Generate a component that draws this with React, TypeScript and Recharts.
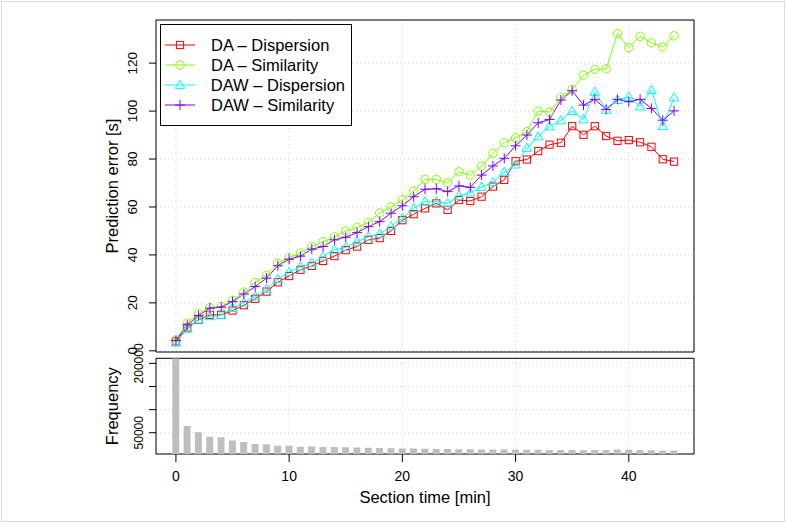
import React from "react";
import {
  LineChart,
  Line,
  BarChart,
  Bar,
  XAxis,
  YAxis,
  CartesianGrid,
  ReferenceArea,
  Legend,
} from "recharts";

// section time in minutes (x axis of both panels)
const sectionTime = [
  0, 1, 2, 3, 4, 5, 6, 7, 8, 9, 10, 11, 12, 13, 14, 15, 16, 17, 18, 19, 20, 21,
  22, 23, 24, 25, 26, 27, 28, 29, 30, 31, 32, 33, 34, 35, 36, 37, 38, 39, 40,
  41, 42, 43, 44,
];

// prediction error [s]
const daDispersion = [
  3.9, 9.7, 12.9, 15.0, 15.0, 16.8, 19.0, 21.7, 24.7, 28.6, 31.2, 33.8, 35.4,
  37.5, 39.5, 42.0, 43.5, 46.3, 47.0, 50.0, 54.5, 57.0, 59.4, 61.5, 58.8, 62.9,
  62.5, 64.3, 68.5, 71.3, 79.1, 79.8, 83.3, 86.0, 86.8, 93.7, 90.1, 93.7, 89.6,
  87.6, 87.9, 87.0, 85.1, 79.9, 78.9,
];
const daSimilarity = [
  4.5, 11.5, 15.5, 18.0, 18.5, 21.0, 24.5, 28.5, 31.5, 36.5, 38.8, 40.8, 43.5,
  45.5, 47.5, 50.0, 51.5, 53.5, 57.5, 60.0, 63.0, 66.7, 71.5, 71.5, 70.1, 74.7,
  73.3, 77.1, 82.4, 86.8, 88.8, 91.4, 100.0, 99.6, 105.7, 109.0, 115.0, 117.4,
  117.6, 132.3, 126.5, 131.2, 128.5, 126.8, 131.4,
];
const dawDispersion = [
  3.4, 9.2, 13.0, 14.4, 14.8, 17.8, 20.1, 22.6, 25.7, 29.9, 32.8, 35.1, 36.5,
  39.3, 42.1, 43.2, 45.5, 47.6, 48.8, 51.8, 55.3, 59.5, 62.2, 62.2, 61.5, 64.6,
  66.0, 68.3, 70.3, 74.5, 77.7, 84.6, 89.4, 93.6, 96.1, 100.0, 96.5, 108.0,
  100.5, 104.6, 105.9, 101.9, 108.8, 93.7, 105.7,
];
const dawSimilarity = [
  4.3, 10.8, 14.7, 17.8, 18.2, 20.5, 23.7, 26.8, 30.3, 35.5, 38.2, 39.5, 42.4,
  43.5, 46.3, 47.4, 49.3, 51.8, 53.9, 57.4, 60.5, 64.3, 67.4, 67.6, 66.4, 68.8,
  68.2, 73.3, 77.1, 80.3, 85.5, 90.0, 95.1, 96.5, 104.6, 108.5, 102.5, 104.9,
  100.7, 104.9, 103.9, 104.9, 101.1, 96.2, 100.1,
];

// number of sections per section time
const frequency = [
  211000, 64500, 51000, 41500, 40500, 33000, 30000, 25500, 25000, 22000, 22000,
  19500, 20000, 19000, 19000, 18500, 18000, 17500, 17000, 16500, 16000, 16000,
  15500, 15000, 15000, 14500, 14500, 14000, 14000, 13500, 13500, 13000, 13000,
  12500, 12500, 12500, 12000, 12500, 12500, 13500, 13500, 12500, 12000, 11500,
  11500,
];

const xTicks = [0, 10, 20, 30, 40];
const errorTicks = [0, 20, 40, 60, 80, 100, 120];
const freqTicks = [50000, 100000, 150000, 200000];
const freqLabelled = [50000, 200000];

const X_DOMAIN: [number, number] = [-1.76, 45.76];
const ERR_DOMAIN: [number, number] = [-0.5, 138];
const FREQ_DOMAIN: [number, number] = [4000, 211000];

const FONT = "'Liberation Sans', Arial, Helvetica, sans-serif";
const GRID = "#d3d3d3";

type Shape = "square" | "circle" | "triangle" | "plus";

const SERIES: { key: string; name: string; color: string; shape: Shape }[] = [
  { key: "daDisp", name: "DA \u2013 Dispersion", color: "#FF0000", shape: "square" },
  { key: "daSim", name: "DA \u2013 Similarity", color: "#80FF00", shape: "circle" },
  { key: "dawDisp", name: "DAW \u2013 Dispersion", color: "#00FFFF", shape: "triangle" },
  { key: "dawSim", name: "DAW \u2013 Similarity", color: "#8000FF", shape: "plus" },
];

const errorRows = sectionTime.map((t, i) => ({
  t,
  daDisp: daDispersion[i],
  daSim: daSimilarity[i],
  dawDisp: dawDispersion[i],
  dawSim: dawSimilarity[i],
}));

const freqRows = sectionTime.map((t, i) => ({ t, freq: frequency[i] }));

function Marker({ shape, cx, cy, color }: { shape: Shape; cx: number; cy: number; color: string }) {
  if (cx == null || cy == null) return null;
  if (shape === "square")
    return <rect x={cx - 3.6} y={cy - 3.6} width={7.2} height={7.2} fill="none" stroke={color} strokeWidth={1} />;
  if (shape === "circle")
    return <circle cx={cx} cy={cy} r={4.2} fill="none" stroke={color} strokeWidth={1} />;
  if (shape === "triangle")
    return (
      <polygon
        points={`${cx},${cy - 5} ${cx - 4.8},${cy + 3.4} ${cx + 4.8},${cy + 3.4}`}
        fill="none"
        stroke={color}
        strokeWidth={1}
      />
    );
  return (
    <path
      d={`M${cx - 5},${cy}H${cx + 5}M${cx},${cy - 5}V${cy + 5}`}
      stroke={color}
      strokeWidth={1}
      fill="none"
    />
  );
}

function LegendBox() {
  return (
    <div
      style={{
        border: "1px solid #000",
        background: "#fff",
        padding: "10px 6px 10px 4px",
        width: 192,
        boxSizing: "border-box",
        fontFamily: FONT,
      }}
    >
      {SERIES.map((s) => (
        <div key={s.key} style={{ display: "flex", alignItems: "center", height: 20 }}>
          <svg width={30} height={20} style={{ display: "block" }}>
            <line x1={0} y1={10} x2={30} y2={10} stroke={s.color} strokeWidth={1} />
            <Marker shape={s.shape} cx={15} cy={10} color={s.color} />
          </svg>
          <span style={{ marginLeft: 16, fontSize: 16.5, lineHeight: "20px", color: "#000", whiteSpace: "nowrap" }}>
            {s.name}
          </span>
        </div>
      ))}
    </div>
  );
}

const rotatedTick = (fontSize: number, show?: number[]) => (props: any) => {
  const { x, y, payload } = props;
  const v = payload.value;
  if (show && !show.includes(v)) return <g />;
  return (
    <text
      x={x}
      y={y}
      transform={`rotate(-90 ${x} ${y})`}
      textAnchor="middle"
      dominantBaseline="central"
      fontSize={fontSize}
      fill="#000"
      fontFamily={FONT}
    >
      {String(v)}
    </text>
  );
};

const xTick = (props: any) => {
  const { x, y, payload } = props;
  return (
    <text x={x} y={y} dy="0.71em" textAnchor="middle" fontSize={14} fill="#000" fontFamily={FONT}>
      {String(payload.value)}
    </text>
  );
};

const yTitle = (text: string) => (props: any) => {
  const vb = props.viewBox;
  const x = vb.x + 12;
  const y = vb.y + vb.height / 2;
  return (
    <text
      x={x}
      y={y}
      transform={`rotate(-90 ${x} ${y})`}
      textAnchor="middle"
      dominantBaseline="central"
      fontSize={16.5}
      fill="#000"
      fontFamily={FONT}
    >
      {text}
    </text>
  );
};

const xTitle = (props: any) => {
  const vb = props.viewBox;
  return (
    <text
      x={vb.x + vb.width / 2}
      y={vb.y + 43}
      textAnchor="middle"
      dominantBaseline="central"
      fontSize={16.5}
      fill="#000"
      fontFamily={FONT}
    >
      Section time [min]
    </text>
  );
};

export default function App() {
  return (
    <div
      style={{
        position: "absolute",
        left: 0,
        top: 0,
        width: 786,
        height: 523,
        background: "#fff",
        fontFamily: FONT,
        overflow: "hidden",
      }}
    >
      <div
        style={{
          position: "absolute",
          left: 1,
          top: 1,
          width: 782,
          height: 519,
          border: "1px solid #d9d9d9",
        }}
      />
      <div style={{ position: "absolute", left: 0, top: 0 }}>
        <LineChart
          width={786}
          height={360}
          data={errorRows}
          margin={{ top: 20, right: 92, bottom: 8, left: 100 }}
        >
          <CartesianGrid stroke={GRID} strokeDasharray="1 3" />
          <XAxis
            hide
            type="number"
            dataKey="t"
            domain={X_DOMAIN}
            ticks={xTicks}
            allowDataOverflow
          />
          <YAxis
            type="number"
            width={56}
            domain={ERR_DOMAIN}
            ticks={errorTicks}
            allowDataOverflow
            axisLine={false}
            tickLine={{ stroke: "#000" }}
            tickSize={7}
            tickMargin={16}
            tick={rotatedTick(13.5)}
            label={yTitle("Prediction error [s]")}
          />
          <ReferenceArea
            x1={X_DOMAIN[0]}
            x2={X_DOMAIN[1]}
            y1={ERR_DOMAIN[0]}
            y2={ERR_DOMAIN[1]}
            fill="none"
            stroke="#000"
            strokeWidth={1}
            ifOverflow="visible"
          />
          {SERIES.map((s) => (
            <Line
              key={s.key}
              type="linear"
              dataKey={s.key}
              name={s.name}
              stroke={s.color}
              strokeWidth={1}
              isAnimationActive={false}
              activeDot={false}
              dot={(p: any) => (
                <Marker key={`${s.key}-${p.index}`} shape={s.shape} cx={p.cx} cy={p.cy} color={s.color} />
              )}
            />
          ))}
          <Legend
            layout="vertical"
            align="center"
            verticalAlign="middle"
            content={() => <LegendBox />}
            wrapperStyle={{ left: 160, top: 24, width: "auto" }}
          />
        </LineChart>
      </div>
      <div style={{ position: "absolute", left: 0, top: 340 }}>
        <BarChart
          width={786}
          height={183}
          data={freqRows}
          margin={{ top: 18.3, right: 92, bottom: 19, left: 100 }}
        >
          <CartesianGrid stroke={GRID} strokeDasharray="1 3" />
          <XAxis
            type="number"
            dataKey="t"
            domain={X_DOMAIN}
            ticks={xTicks}
            allowDataOverflow
            height={50}
            axisLine={false}
            tickLine={{ stroke: "#000" }}
            tickSize={8}
            tickMargin={9}
            tick={xTick}
            label={xTitle}
          />
          <YAxis
            type="number"
            width={56}
            domain={FREQ_DOMAIN}
            ticks={freqTicks}
            allowDataOverflow
            axisLine={false}
            tickLine={{ stroke: "#000" }}
            tickSize={7}
            tickMargin={10}
            tick={rotatedTick(12, freqLabelled)}
            label={yTitle("Frequency")}
          />
          <Bar dataKey="freq" fill="#bebebe" barSize={7} isAnimationActive={false} />
          <ReferenceArea
            x1={X_DOMAIN[0]}
            x2={X_DOMAIN[1]}
            y1={FREQ_DOMAIN[0]}
            y2={FREQ_DOMAIN[1]}
            fill="none"
            stroke="#000"
            strokeWidth={1}
            ifOverflow="visible"
          />
        </BarChart>
      </div>
    </div>
  );
}
